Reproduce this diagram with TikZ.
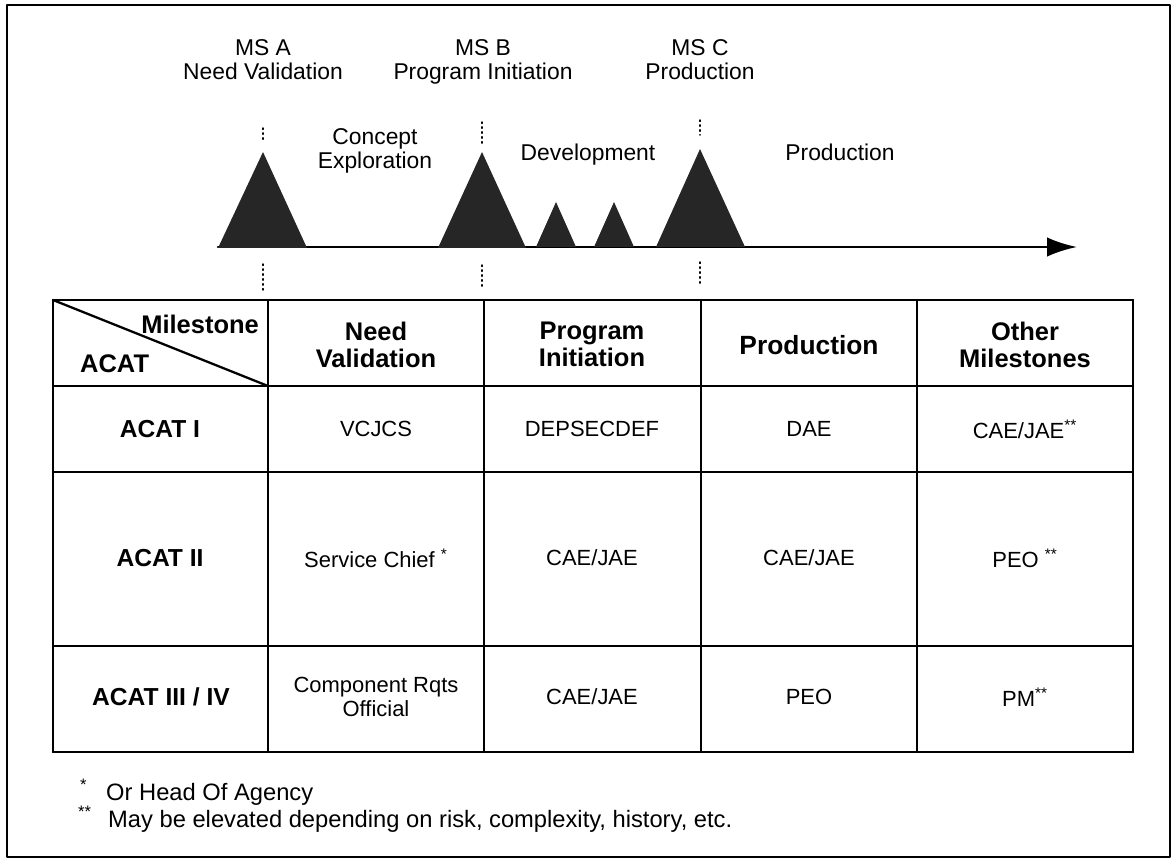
\documentclass[tikz,border=0pt]{standalone}
\usepackage{fontspec}
\setmainfont{Liberation Sans}
\usetikzlibrary{arrows.meta}
\begin{document}
\begin{tikzpicture}[x=0.02cm,y=-0.02cm,>={Latex[length=17pt,width=11pt]},line cap=round,line join=round,
	tri/.style={fill=black!85},
	grid/.style={line width=1.3pt},
	mslabel/.style={align=center,font=\fontsize{13}{14}\selectfont},
	head/.style={align=center,font=\bfseries\fontsize{14.5}{15.5}\selectfont},
	cell/.style={align=center,font=\fontsize{12.5}{13.5}\selectfont},
	rowhead/.style={font=\bfseries\fontsize{14}{15}\selectfont},
	note/.style={anchor=base west,font=\fontsize{13.5}{14}\selectfont}]
	\useasboundingbox (0,0) rectangle (1175,861);
	\draw[line width=0.9pt] (7,5) rectangle (1170,857);
	% timeline
	\coordinate (t0) at (218,247);
	\coordinate (t1) at (1077,247);
	\draw[line width=1.5pt,->] (t0) -- (t1);
	\fill[tri] (218,248) -- (263,152) -- (307,248) -- cycle;
	\fill[tri] (438,248) -- (482,152) -- (526,248) -- cycle;
	\fill[tri] (536,247) -- (556,202) -- (576,247) -- cycle;
	\fill[tri] (594,247) -- (614,202) -- (634,247) -- cycle;
	\fill[tri] (656,247) -- (700,149) -- (745,247) -- cycle;
	\foreach \x/\a/\b in {263/128/140,482/122/145,700/120/135,263/264/290,482/265/288,700/262/285}
		\draw[dotted,line width=0.8pt] (\x,\a) -- (\x,\b);
	\node[mslabel,anchor=north] (msa) at (263,33) {MS A\\Need Validation};
	\node[mslabel,anchor=north] (msb) at (483,33) {MS B\\Program Initiation};
	\node[mslabel,anchor=north] (msc) at (700,33) {MS C\\Production};
	\node[mslabel] (concept) at (375,151) {Concept\\Exploration};
	\node[mslabel] (devel) at (588,155) {Development};
	\node[mslabel] (prod) at (840,152) {Production};
	% table
	\foreach \y in {300,386,472,646,752} \draw[grid] (53,\y) -- (1133,\y);
	\foreach \x in {53,268,484,701,917,1133} \draw[grid] (\x,300) -- (\x,752);
	\draw[grid] (53,300) -- (268,386);
	\node[head,anchor=east] (milestone) at (265,324) {Milestone};
	\node[head,anchor=west] (acat) at (74,364) {ACAT};
	\node[head,anchor=north] (h1) at (376,316) {Need\\Validation};
	\node[head,anchor=north] (h2) at (592,316) {Program\\Initiation};
	\node[head,font=\bfseries\fontsize{15}{16}\selectfont] (h3) at (809,345) {Production};
	\node[head,anchor=north] (h4) at (1025,316) {Other\\Milestones};
	\node[rowhead] (r1) at (160,429) {ACAT I};
	\node[rowhead] (r2) at (160,558) {ACAT II};
	\node[rowhead] (r3) at (161,697) {ACAT III / IV};
	\node[cell] (c11) at (376,429) {VCJCS};
	\node[cell] (c12) at (592,429) {DEPSECDEF};
	\node[cell] (c13) at (809,429) {DAE};
	\node[cell] (c14) at (1025,429) {CAE/JAE\textsuperscript{**}};
	\node[cell] (c21) at (376,558) {Service Chief \textsuperscript{*}};
	\node[cell] (c22) at (592,558) {CAE/JAE};
	\node[cell] (c23) at (809,558) {CAE/JAE};
	\node[cell] (c24) at (1025,558) {PEO \textsuperscript{**}};
	\node[cell] (c31) at (376,697) {Component Rqts\\Official};
	\node[cell] (c32) at (592,697) {CAE/JAE};
	\node[cell] (c33) at (809,697) {PEO};
	\node[cell] (c34) at (1025,697) {PM\textsuperscript{**}};
	% notes
	\node[note] (s1) at (74,800) {\textsuperscript{*}};
	\node[note] (n1) at (100,800) {Or Head Of Agency};
	\node[note] (s2) at (72,827) {\textsuperscript{**}};
	\node[note] (n2) at (102,827) {May be elevated depending on risk, complexity, history, etc.};
\end{tikzpicture}
\end{document}
